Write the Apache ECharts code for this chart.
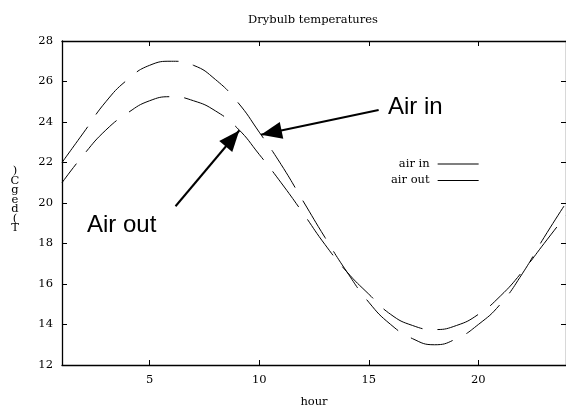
<!DOCTYPE html>
<html>
<head>
<meta charset="utf-8">
<script src="https://cdn.jsdelivr.net/npm/echarts@6/dist/echarts.min.js"></script>
<style>html,body{margin:0;padding:0;background:#fff}#c{width:566px;height:413px}</style>
</head>
<body>
<div id="c"></div>
<script>
const hours = [1,2,3,4,5,6,7,8,9,10,11,12,13,14,15,16,17,18,19,20,21,22,23,24];
const airIn = [22.0,23.5,25.0,26.1,26.8,27.0,26.8,26.1,25.0,23.5,21.9,20.1,18.3,16.6,15.1,14.0,13.3,13.0,13.3,14.0,15.0,16.5,18.3,20.0];
const airOut = [21.0,22.4,23.6,24.45,25.05,25.25,25.05,24.55,23.7,22.4,21.0,19.5,17.95,16.6,15.5,14.5,13.95,13.75,13.95,14.5,15.4,16.6,18.0,19.4];
const xTicks = [5,10,15,20];
const yTicks = [12,14,16,18,20,22,24,26,28];
// annotation arrows: [from(hour,temp), to(hour,temp)]
const arrowAirIn = [[15.45,24.59],[10.08,23.37]];
const arrowAirOut = [[6.18,19.84],[9.09,23.58]];

const serif = 'DejaVu Serif';
const fs = 11.5;
const chart = echarts.init(document.getElementById('c'));
const axisCommon = {
  axisLine:{show:true,lineStyle:{color:'#000',width:1.3}},
  axisTick:{show:true,inside:true,length:5,lineStyle:{color:'#000',width:1}},
  splitLine:{show:false}
};
chart.setOption({
  animation:false,
  backgroundColor:'#fff',
  color:['#000','#000'],
  title:{text:'Drybulb temperatures',left:313,textAlign:'center',top:14,padding:0,
    textStyle:{fontFamily:serif,fontSize:fs,fontWeight:'normal',color:'#000'}},
  grid:{left:62,top:41,width:506,height:328,containLabel:false},
  legend:{orient:'vertical',left:391,top:158,padding:0,itemWidth:41,itemHeight:1,itemGap:4.4,
    align:'right',icon:'rect',
    itemStyle:{color:'#000',borderWidth:0},
    textStyle:{fontFamily:serif,fontSize:fs,color:'#000',width:40,align:'right',padding:[0,3,0,0]},
    data:['air in','air out']},
  xAxis:[
    Object.assign({type:'value',min:1,max:24,position:'bottom',
      name:'hour',nameLocation:'middle',nameGap:31,
      nameTextStyle:{fontFamily:serif,fontSize:fs,color:'#000'},
      axisLabel:{customValues:xTicks,fontFamily:serif,fontSize:fs,color:'#000',margin:9}},axisCommon,
      {axisTick:Object.assign({},axisCommon.axisTick,{customValues:xTicks})}),
    Object.assign({type:'value',min:1,max:24,position:'top',axisLabel:{show:false}},axisCommon,
      {axisTick:Object.assign({},axisCommon.axisTick,{customValues:xTicks})})
  ],
  yAxis:[
    Object.assign({type:'value',min:12,max:28,interval:2,position:'left',
      axisLabel:{fontFamily:serif,fontSize:fs,color:'#000',margin:9,customValues:yTicks}},axisCommon),
    Object.assign({type:'value',min:12,max:28,interval:2,position:'right',axisLabel:{show:false}},axisCommon)
  ],
  graphic:[
    {type:'text',x:15,y:200,silent:true,
      style:{text:')\nC\ng\ne\nd\n(\nT',fontFamily:serif,fontSize:fs,lineHeight:9.5,fill:'#000',align:'center',verticalAlign:'middle'}},
    {type:'text',x:388,y:107.5,silent:true,
      style:{text:'Air in',fontFamily:'Liberation Sans',fontSize:24,fill:'#000',align:'left',verticalAlign:'middle'}},
    {type:'text',x:87,y:225,silent:true,
      style:{text:'Air out',fontFamily:'Liberation Sans',fontSize:24,fill:'#000',align:'left',verticalAlign:'middle'}}
  ],
  series:[
    {name:'air in',type:'line',smooth:0.5,symbol:'none',silent:true,
      data:hours.map((h,i)=>[h,airIn[i]]),
      lineStyle:{color:'#000',width:1,type:[44,15]},
      markLine:{silent:true,symbol:['none','triangle'],symbolSize:[17,21],symbolOffset:[0,[0,10.5]],
        lineStyle:{type:'solid',width:2,color:'#000'},itemStyle:{color:'#000'},label:{show:false},
        data:[
          [{coord:arrowAirIn[0]},{coord:arrowAirIn[1]}],
          [{coord:arrowAirOut[0]},{coord:arrowAirOut[1]}]
        ]}
    },
    {name:'air out',type:'line',smooth:0.5,symbol:'none',silent:true,
      data:hours.map((h,i)=>[h,airOut[i]]),
      lineStyle:{color:'#000',width:1,type:[44,15],dashOffset:20}}
  ]
});
</script>
</body>
</html>
